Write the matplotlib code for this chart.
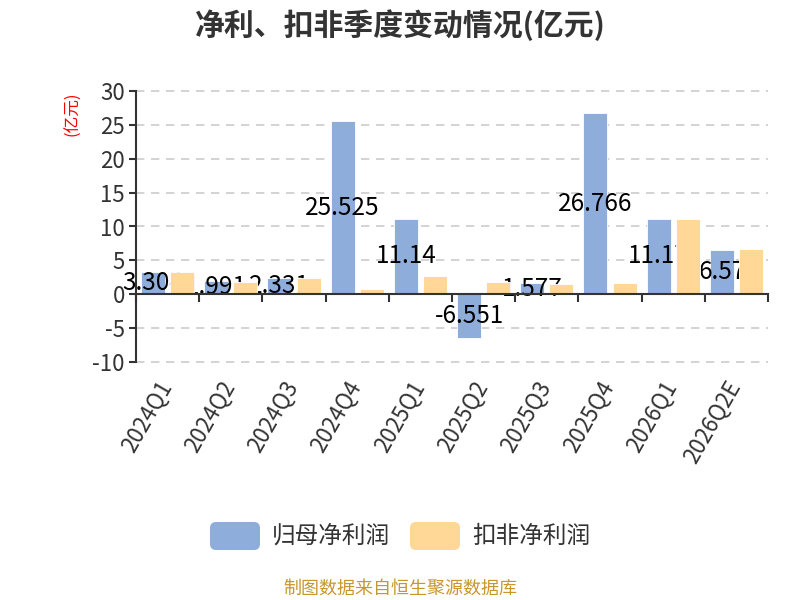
import matplotlib.pyplot as plt
import numpy as np
from matplotlib.patches import FancyBboxPatch

plt.rcParams['font.family'] = ['Noto Sans CJK SC', 'DejaVu Sans']
plt.rcParams['axes.unicode_minus'] = False

quarters = ['2024Q1', '2024Q2', '2024Q3', '2024Q4', '2025Q1', '2025Q2',
            '2025Q3', '2025Q4', '2026Q1', '2026Q2E']
net_profit = [3.304, 1.991, 2.331, 25.525, 11.14, -6.551, 1.577, 26.766, 11.17, 6.57]
net_profit_ex = [3.34, 1.86, 2.41, 0.78, 2.66, 1.82, 1.48, 1.67, 11.08, 6.65]
series_names = ['归母净利润', '扣非净利润']
colors = ['#8EADDB', '#FFD897']

fig = plt.figure(figsize=(8, 6), dpi=100)
ax = fig.add_axes([0.17, 0.397, 0.79, 0.451])

x = np.arange(len(quarters))
w = 0.38
off = 0.23
ax.bar(x - off, net_profit, w, color=colors[0], edgecolor='white', linewidth=0.6, zorder=2)
ax.bar(x + off, net_profit_ex, w, color=colors[1], edgecolor='white', linewidth=0.6, zorder=4)

for xi, v in zip(x, net_profit):
    ax.text(xi - off, v / 2, f'{v:g}', ha='center', va='center', fontsize=17.5,
            color='black', zorder=3)

ax.set_xlim(-0.5, len(quarters) - 0.5)
ax.set_ylim(-10, 30)
ax.set_yticks(np.arange(-10, 31, 5))
ax.tick_params(axis='y', labelsize=16, colors='#333333', length=5, width=1.5, pad=3)
ax.grid(axis='y', linestyle=(0, (5, 4)), color='#cccccc', linewidth=1.2, zorder=0)
for gl in ax.get_ygridlines():
    gl.set_clip_on(False)
ax.set_axisbelow(True)

for s in ['top', 'right']:
    ax.spines[s].set_visible(False)
ax.spines['left'].set_color('#333333')
ax.spines['left'].set_linewidth(1.5)
ax.spines['bottom'].set_position(('data', 0))
ax.spines['bottom'].set_color('#333333')
ax.spines['bottom'].set_linewidth(1.5)
ax.spines['bottom'].set_zorder(5)

ax.set_xticks(np.arange(len(quarters) + 1) - 0.5)
ax.set_xticklabels([])
ax.tick_params(axis='x', length=6, width=1.5, colors='#333333', direction='out')
for xi, q in zip(x, quarters):
    ax.text(xi - 0.18, -12.2, q, rotation=60, ha='right', va='top', fontsize=16,
            color='#333333', rotation_mode='anchor')

fig.text(0.091, 0.847, '(亿元)', rotation=90, color='red', fontsize=12,
         ha='center', va='top')
fig.text(0.5, 0.958, '净利、扣非季度变动情况(亿元)', ha='center', va='center',
         fontsize=21.5, fontweight='bold', color='#333333')

# legend and source note drawn in pixel space
ov = fig.add_axes([0, 0, 1, 1], zorder=-1)
ov.set_xlim(0, 800)
ov.set_ylim(600, 0)
ov.axis('off')
legend_x = [210, 410]
for lx, c, name in zip(legend_x, colors, series_names):
    ov.add_patch(FancyBboxPatch((lx, 522), 50, 28,
                                boxstyle='round,pad=0,rounding_size=6',
                                fc=c, ec='none'))
    ov.text(lx + 62, 536, name, fontsize=17, color='#333333', va='center', ha='left')
ov.text(400, 589, '制图数据来自恒生聚源数据库', fontsize=13, color='#C9962B',
        ha='center', va='center')

fig.savefig('out.png', dpi=100)
